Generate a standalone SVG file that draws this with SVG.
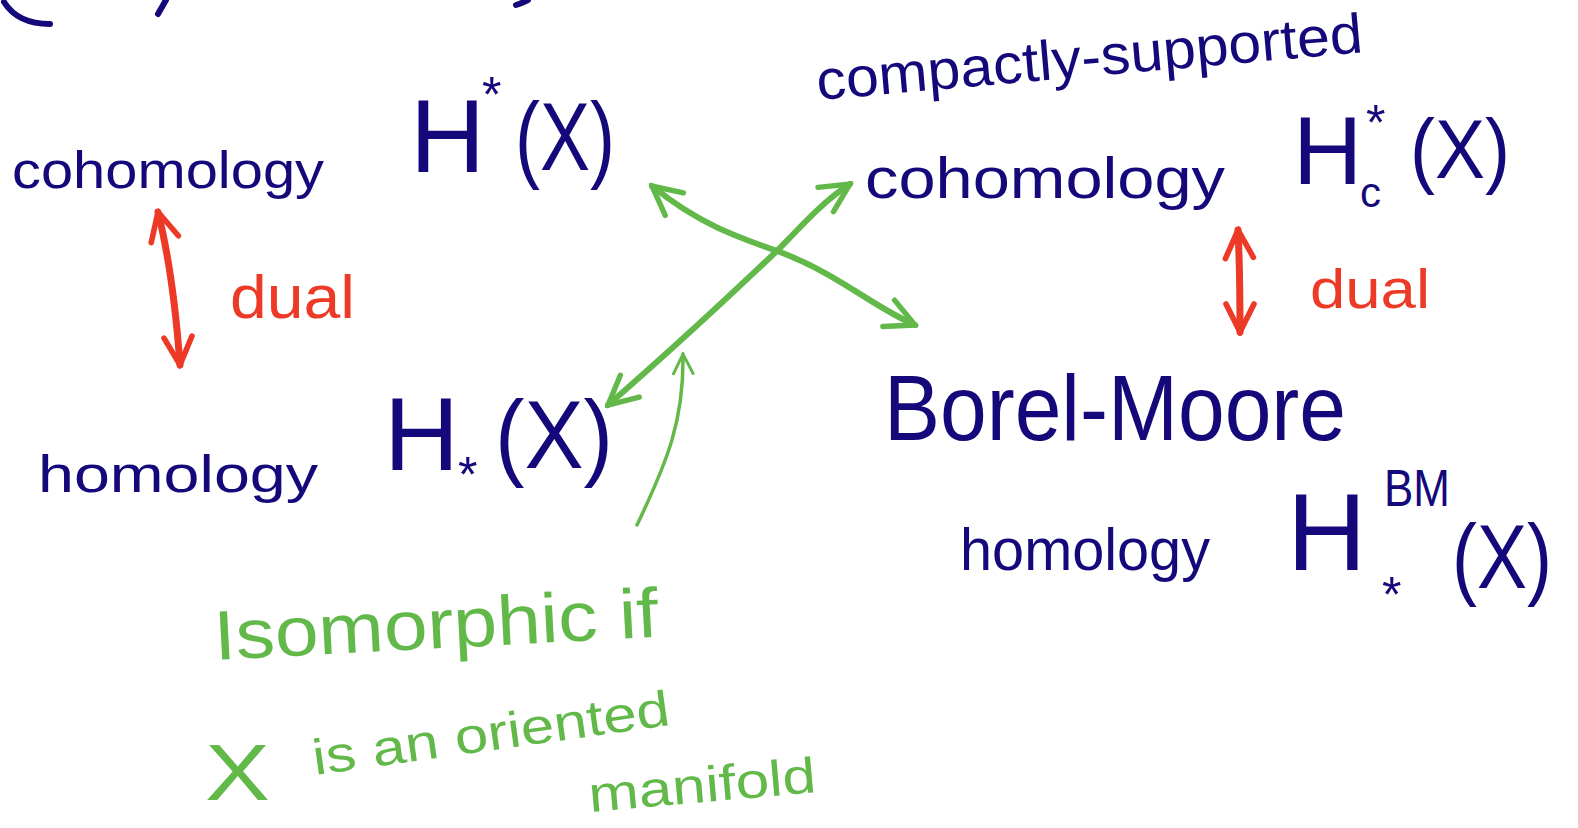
<svg xmlns="http://www.w3.org/2000/svg" width="1578" height="828" viewBox="0 0 1578 828">
<style>
.n{fill:#14087a;font-family:"Liberation Sans",Arial,sans-serif}
.r{fill:#ec3a26;font-family:"Liberation Sans",Arial,sans-serif}
.g{fill:#62b94a;font-family:"Liberation Sans",Arial,sans-serif}
.sr{fill:none;stroke:#ec3a26;stroke-width:7;stroke-linecap:round}
.sg{fill:none;stroke:#62b94a;stroke-width:6;stroke-linecap:round}
.sgt{fill:none;stroke:#62b94a;stroke-width:3.5;stroke-linecap:round}
.sn{fill:none;stroke:#14087a;stroke-width:6;stroke-linecap:round}
</style>
<defs>
<marker id="ar" viewBox="0 0 10 10" refX="9" refY="5" markerWidth="5" markerHeight="5" orient="auto-start-reverse" markerUnits="strokeWidth"><path d="M1,1 L9,5 L1,9" fill="none" stroke="#ec3a26" stroke-width="1.6" stroke-linecap="round"/></marker>
<marker id="ag" viewBox="0 0 10 10" refX="9" refY="5" markerWidth="6" markerHeight="6" orient="auto-start-reverse" markerUnits="strokeWidth"><path d="M1,1 L9,5 L1,9" fill="none" stroke="#62b94a" stroke-width="1.5" stroke-linecap="round"/></marker>
<marker id="agt" viewBox="0 0 10 10" refX="9" refY="5" markerWidth="7" markerHeight="7" orient="auto-start-reverse" markerUnits="strokeWidth"><path d="M1,1 L9,5 L1,9" fill="none" stroke="#62b94a" stroke-width="1.2" stroke-linecap="round"/></marker>
</defs>
<rect width="1578" height="828" fill="#fff"/>
<g id="fragments">
<path class="sn" d="M4,2 C14,18 30,24 50,24"/>
<path class="sn" d="M158,14 L166,0"/>
<path class="sn" d="M516,5 C522,3 526,1 528,0"/>
</g>
<g id="connectors">
<path class="sr" d="M158,212 C170,260 176,310 180,365" marker-start="url(#ar)" marker-end="url(#ar)"/>
<path class="sr" d="M1238,230 C1240,270 1240,300 1240,332" marker-start="url(#ar)" marker-end="url(#ar)"/>
<path class="sg" d="M652,186 C700,225 740,238 780,252 C840,275 870,305 915,325" marker-start="url(#ag)" marker-end="url(#ag)"/>
<path class="sg" d="M608,405 C660,360 720,305 780,248 C805,222 825,200 850,184" marker-start="url(#ag)" marker-end="url(#ag)"/>
<path class="sgt" d="M637,525 C668,460 684,420 683,354" marker-end="url(#agt)"/>
</g>
<g id="cohomology">
<text class="n" x="12" y="188" font-size="52" textLength="312" lengthAdjust="spacingAndGlyphs">cohomology</text>
<text class="n" x="410" y="172" font-size="104">H</text>
<text class="n" x="482" y="112" font-size="50">*</text>
<text class="n" x="515" y="170" font-size="96" textLength="100" lengthAdjust="spacingAndGlyphs">(X)</text>
</g>
<g id="dual-left"><text class="r" x="230" y="318" font-size="62" textLength="125" lengthAdjust="spacingAndGlyphs">dual</text></g>
<g id="homology">
<text class="n" x="38" y="492" font-size="52" textLength="280" lengthAdjust="spacingAndGlyphs">homology</text>
<text class="n" x="384" y="470" font-size="104">H</text>
<text class="n" x="458" y="492" font-size="50">*</text>
<text class="n" x="495" y="468" font-size="96" textLength="118" lengthAdjust="spacingAndGlyphs">(X)</text>
</g>
<g id="compactly">
<text class="n" x="818" y="100" font-size="56" textLength="548" lengthAdjust="spacingAndGlyphs" transform="rotate(-5 818 100)">compactly-supported</text>
<text class="n" x="865" y="198" font-size="58" textLength="360" lengthAdjust="spacingAndGlyphs">cohomology</text>
<text class="n" x="1293" y="184" font-size="96">H</text>
<text class="n" x="1366" y="140" font-size="50">*</text>
<text class="n" x="1360" y="207" font-size="42">c</text>
<text class="n" x="1410" y="178" font-size="84" textLength="100" lengthAdjust="spacingAndGlyphs">(X)</text>
</g>
<g id="dual-right"><text class="r" x="1310" y="308" font-size="56" textLength="120" lengthAdjust="spacingAndGlyphs">dual</text></g>
<g id="borel-moore">
<text class="n" x="884" y="440" font-size="92" textLength="462" lengthAdjust="spacingAndGlyphs">Borel-Moore</text>
<text class="n" x="960" y="570" font-size="60" textLength="250" lengthAdjust="spacingAndGlyphs">homology</text>
<text class="n" x="1287" y="570" font-size="110">H</text>
<text class="n" x="1384" y="506" font-size="52" textLength="66" lengthAdjust="spacingAndGlyphs">BM</text>
<text class="n" x="1382" y="612" font-size="50">*</text>
<text class="n" x="1452" y="588" font-size="90" textLength="100" lengthAdjust="spacingAndGlyphs">(X)</text>
</g>
<g id="isomorphic">
<text class="g" x="215" y="660" font-size="70" textLength="445" lengthAdjust="spacingAndGlyphs" transform="rotate(-3 215 660)">Isomorphic if</text>
<text class="g" x="205" y="800" font-size="80" textLength="65" lengthAdjust="spacingAndGlyphs">X</text>
<text class="g" x="315" y="775" font-size="50" textLength="360" lengthAdjust="spacingAndGlyphs" transform="rotate(-8 315 775)">is an oriented</text>
<text class="g" x="590" y="812" font-size="50" textLength="228" lengthAdjust="spacingAndGlyphs" transform="rotate(-5 590 812)">manifold</text>
</g>
</svg>
